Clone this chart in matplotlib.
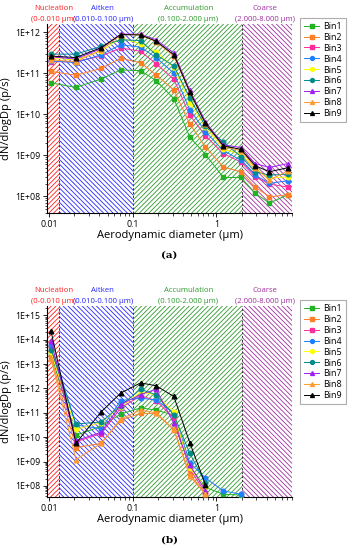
import matplotlib
matplotlib.use("Agg")
import matplotlib.pyplot as plt
import matplotlib.ticker as mticker
import numpy as np

plt.rcParams["font.family"] = ["Open Sans", "DejaVu Sans"]
plt.rcParams["hatch.linewidth"] = 0.6

# aerodynamic diameter (um) of the stages
diam = [0.0106, 0.021, 0.042, 0.072, 0.124, 0.19, 0.31, 0.48, 0.74, 1.21, 1.97, 2.9, 4.3, 7.1]

bins = ["Bin1", "Bin2", "Bin3", "Bin4", "Bin5", "Bin6", "Bin7", "Bin8", "Bin9"]
colors = ["#22b322", "#ff7f27", "#ff2d9b", "#1f7fff", "#ffff00", "#008b8b", "#a020f0", "#ff9a30", "#000000"]
markers = ["s", "s", "s", "o", "o", "o", "^", "^", "^"]

# panel (a): dN/dlogDp (p/s)
a_bin1 = [5.8e10, 4.5e10, 7.2e10, 1.2e11, 1.15e11, 6.6e10, 2.4e10, 2.8e9, 1.05e9, 2.9e8, 2.9e8, 1.2e8, 6.9e7, 1.1e8]
a_bin2 = [1.1e11, 8.9e10, 1.3e11, 2.3e11, 1.8e11, 9.1e10, 3.9e10, 5.8e9, 1.6e9, 5.2e8, 4.0e8, 1.7e8, 9.8e7, 1.1e8]
a_bin3 = [1.9e11, 1.9e11, 2.6e11, 4.1e11, 3.4e11, 1.7e11, 7.1e10, 9.5e9, 3.0e9, 1.1e9, 6.9e8, 3.0e8, 2.0e8, 1.7e8]
a_bin4 = [2.0e11, 1.8e11, 2.8e11, 4.9e11, 4.3e11, 2.4e11, 1.0e11, 1.3e10, 3.8e9, 1.3e9, 7.6e8, 3.3e8, 2.1e8, 2.4e8]
a_bin5 = [2.3e11, 2.1e11, 3.5e11, 7.1e11, 5.2e11, 3.3e11, 1.4e11, 1.9e10, 4.8e9, 1.4e9, 1.1e9, 4.6e8, 2.8e8, 3.0e8]
a_bin6 = [2.9e11, 2.9e11, 4.5e11, 6.5e11, 6.2e11, 2.8e11, 1.5e11, 2.5e10, 5.1e9, 2.1e9, 9.3e8, 4.0e8, 3.3e8, 3.5e8]
a_bin7 = [2.5e11, 2.2e11, 4.0e11, 8.9e11, 8.9e11, 6.5e11, 3.1e11, 3.9e10, 6.6e9, 1.8e9, 1.55e9, 6.3e8, 5.1e8, 6.3e8]
a_bin8 = [2.1e11, 1.9e11, 3.7e11, 8.5e11, 8.7e11, 5.8e11, 2.6e11, 3.4e10, 5.8e9, 1.6e9, 1.3e9, 5.0e8, 2.5e8, 4.2e8]
a_bin9 = [2.6e11, 2.4e11, 4.2e11, 8.7e11, 8.5e11, 6.0e11, 2.8e11, 3.5e10, 6.0e9, 1.7e9, 1.4e9, 5.6e8, 4.0e8, 5.0e8]

# panel (b): dN/dlogDp (p/s), nan = not shown
nan = np.nan
b_bin1 = [2.5e13, 1.2e10, 2.8e10, 8.9e10, 1.6e11, 1.3e11, 8.0e10, 6.3e8, 8.7e7, 4.5e7, 4.2e7, nan, nan, nan]
b_bin2 = [2.0e13, 3.7e9, 5.6e9, 5.1e10, 9.5e10, 9.5e10, 2.0e10, 3.1e8, 4.5e7, nan, nan, nan, nan, nan]
b_bin3 = [5.0e13, 6.5e9, 1.4e10, 1.6e11, 5.0e11, 3.2e11, 6.0e10, 5.0e8, 5.0e7, nan, nan, nan, nan, nan]
b_bin4 = [6.3e13, 3.2e10, 2.2e10, 3.2e11, 4.0e11, 3.4e11, 1.0e11, 8.9e8, 2.1e8, 6.2e7, 4.5e7, nan, nan, nan]
b_bin5 = [3.2e13, 2.1e10, 4.0e10, 1.8e11, 7.1e11, 5.5e11, 1.1e11, 5.2e8, 8.7e7, nan, nan, nan, nan, nan]
b_bin6 = [4.0e13, 3.5e10, 4.2e10, 2.0e11, 9.3e11, 5.5e11, 8.1e10, 2.2e9, 1.3e8, nan, nan, nan, nan, nan]
b_bin7 = [8.9e13, 7.1e9, 1.6e10, 2.2e11, 5.6e11, 9.3e11, 3.7e10, 7.1e8, 6.3e7, nan, nan, nan, nan, nan]
b_bin8 = [1.6e13, 1.2e9, 5.6e9, 5.6e10, 1.3e11, 1.0e11, 2.1e10, 2.5e8, 4.5e7, nan, nan, nan, nan, nan]
b_bin9 = [2.2e14, 5.6e9, 1.1e11, 6.5e11, 1.7e12, 1.3e12, 4.7e11, 6.0e9, 1.1e8, nan, nan, nan, nan, nan]

series_a = [a_bin1, a_bin2, a_bin3, a_bin4, a_bin5, a_bin6, a_bin7, a_bin8, a_bin9]
series_b = [b_bin1, b_bin2, b_bin3, b_bin4, b_bin5, b_bin6, b_bin7, b_bin8, b_bin9]

# size modes
mode_names = ["Nucleation", "Aitken", "Accumulation", "Coarse"]
mode_ranges = ["(0-0.010 μm)", "(0.010-0.100 μm)", "(0.100-2.000 μm)", "(2.000-8.000 μm)"]
mode_edges = [0.0095, 0.013, 0.1, 2.0, 8.0]
mode_colors = ["#ff2020", "#2626ff", "#2e9a2e", "#a030a0"]
mode_hatch = ["///////", "\\\\\\\\\\\\\\", "///////", "\\\\\\\\\\\\\\"]
mode_text_x = [0.0113, 0.044, 0.46, 3.8]


def sci_label(v, pos):
    return f"1E+{int(round(np.log10(v))):02d}"


def draw_panel(ax, series, ylim, label):
    for i in range(4):
        ax.axvspan(mode_edges[i], mode_edges[i + 1], facecolor="white",
                   edgecolor=mode_colors[i], hatch=mode_hatch[i], lw=0, zorder=0)
    for xv in mode_edges[1:4]:
        ax.axvline(xv, color="#333333", ls=(0, (2, 2)), lw=0.7, zorder=1)
    for vals, name, c, m in zip(series, bins, colors, markers):
        ax.plot(diam, vals, color=c, marker=m, ms=3.3, lw=0.7, label=name, zorder=3)
    ax.set_xscale("log")
    ax.set_yscale("log")
    ax.set_xlim(mode_edges[0], mode_edges[-1])
    ax.set_ylim(*ylim)
    ax.yaxis.set_major_locator(mticker.LogLocator(base=10, numticks=20))
    ax.yaxis.set_major_formatter(mticker.FuncFormatter(sci_label))
    ax.yaxis.set_minor_locator(mticker.LogLocator(base=10, subs=np.arange(2, 10), numticks=20))
    ax.yaxis.set_minor_formatter(mticker.NullFormatter())
    ax.xaxis.set_major_locator(mticker.FixedLocator([0.01, 0.1, 1]))
    ax.xaxis.set_major_formatter(mticker.FixedFormatter(["0.01", "0.1", "1"]))
    ax.xaxis.set_minor_formatter(mticker.NullFormatter())
    ax.tick_params(labelsize=6.3, length=3, width=0.6, pad=2)
    ax.tick_params(which="minor", length=1.8, width=0.5)
    for s in ["top", "right"]:
        ax.spines[s].set_visible(False)
    ax.set_xlabel("Aerodynamic diameter (μm)", fontsize=8, labelpad=1)
    ax.set_ylabel("dN/dlogDp (p/s)", fontsize=8, labelpad=2)
    for i in range(4):
        ax.text(mode_text_x[i], 1.063, mode_names[i], transform=ax.get_xaxis_transform(),
                ha="center", va="bottom", fontsize=5.6, color=mode_colors[i])
        ax.text(mode_text_x[i], 1.004, mode_ranges[i], transform=ax.get_xaxis_transform(),
                ha="center", va="bottom", fontsize=5.6, color=mode_colors[i])
    leg = ax.legend(loc="upper left", bbox_to_anchor=(1.015, 1.055), fontsize=6.4,
                    handlelength=1.7, handletextpad=0.4, labelspacing=0.22, borderpad=0.45,
                    fancybox=False, edgecolor="#999999", markerscale=0.85)
    leg.get_frame().set_linewidth(0.8)
    ax.text(0.5, -0.225, label, transform=ax.transAxes, ha="center", va="center",
            fontsize=7.5, fontweight="bold", family="DejaVu Serif")


fig = plt.figure(figsize=(3.57, 5.5), dpi=100)
ax_a = fig.add_axes([0.132, 0.613, 0.686, 0.344])
ax_b = fig.add_axes([0.132, 0.097, 0.686, 0.347])

draw_panel(ax_a, series_a, (4e7, 1.6e12), "(a)")
draw_panel(ax_b, series_b, (3.6e7, 2.5e15), "(b)")

fig.savefig("out.png", dpi=100)
